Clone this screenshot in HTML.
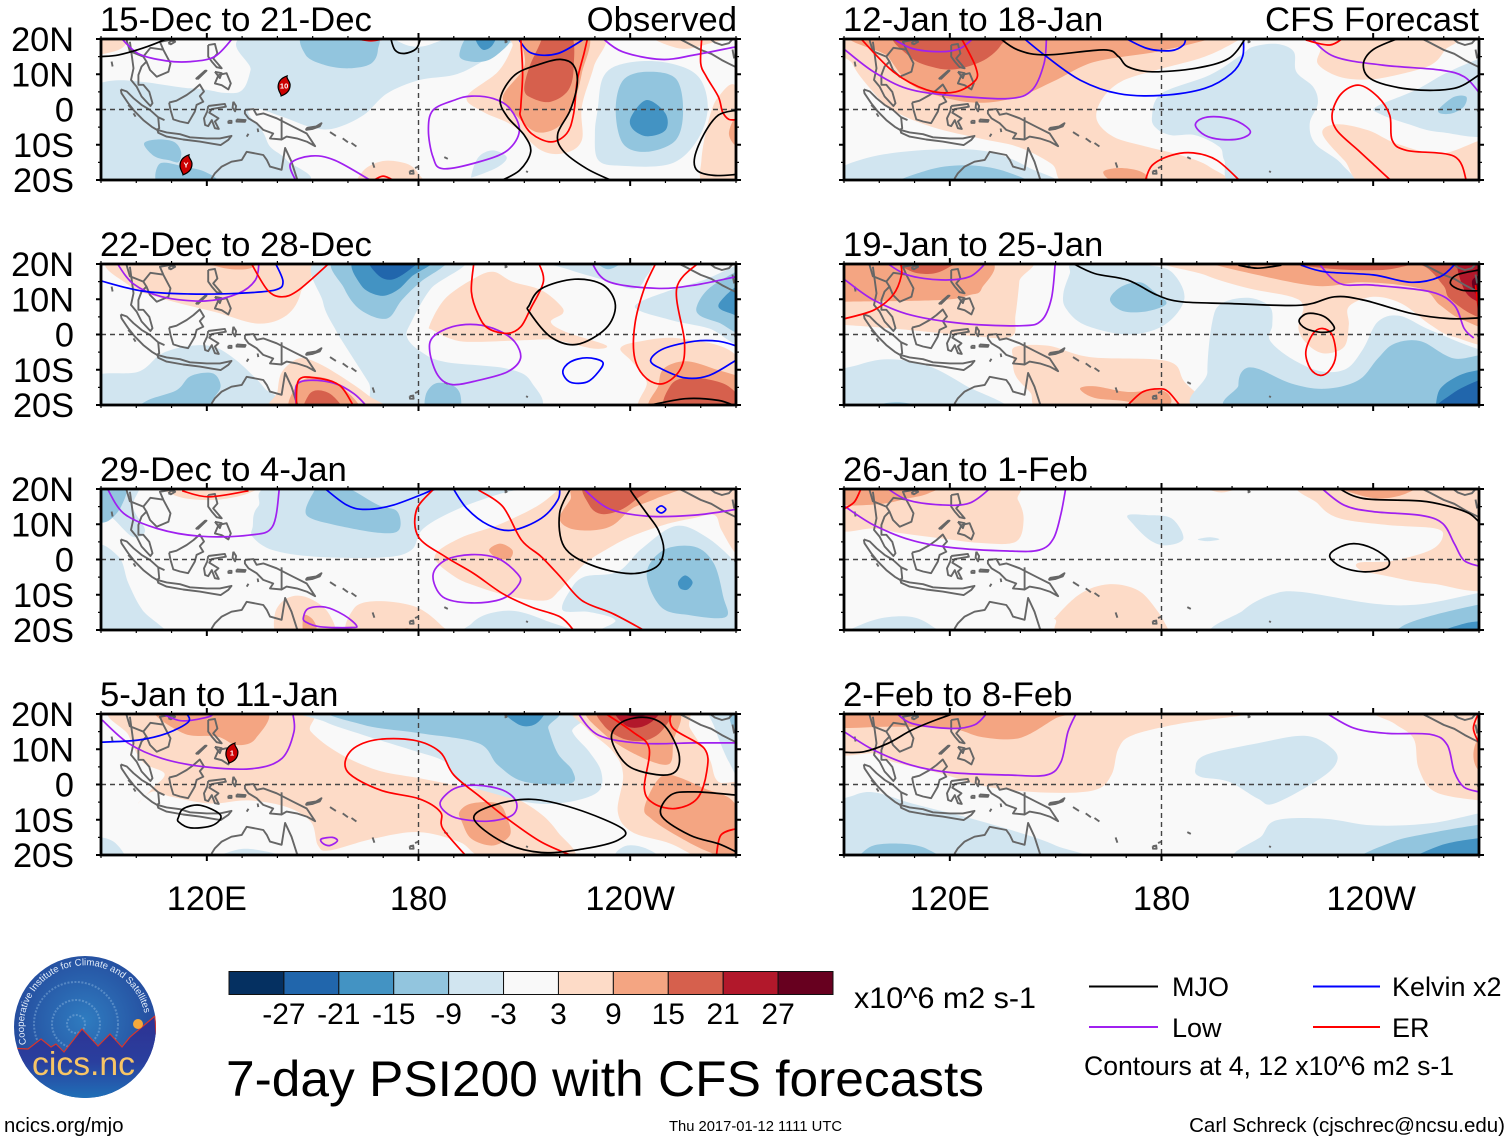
<!DOCTYPE html>
<html lang="en">
<head>
<meta charset="utf-8">
<title>7-day PSI200 with CFS forecasts</title>
<style>
html,body{margin:0;padding:0;background:#fff;width:1510px;height:1142px;overflow:hidden}
svg{display:block}
text{font-family:"Liberation Sans",sans-serif;fill:#000}
</style>
</head>
<body>
<svg id="chart" xmlns="http://www.w3.org/2000/svg" width="1510" height="1142" viewBox="0 0 1510 1142">
<defs>
<radialGradient id="logoSky" cx="50%" cy="45%" r="55%"><stop offset="0" stop-color="#2f7cc0"/><stop offset="1" stop-color="#24489b"/></radialGradient>
<linearGradient id="logoLand" x1="0" y1="0" x2="0" y2="1"><stop offset="0" stop-color="#2e3192"/><stop offset=".55" stop-color="#2a3f9e"/><stop offset="1" stop-color="#1f72b8"/></linearGradient>
<clipPath id="logoClip"><circle cx="85" cy="1027" r="71"/></clipPath>
<path id="logoArc" d="M26.5 1044A61 61 0 1 1 145 1016"/>
</defs>
<g id="panels"></g>

<g font-size="34.7">
<text x="100" y="31">15-Dec to 21-Dec</text>
<text x="737" y="31" text-anchor="end">Observed</text>
<text x="100" y="256">22-Dec to 28-Dec</text>
<text x="100" y="481">29-Dec to 4-Jan</text>
<text x="100" y="706">5-Jan to 11-Jan</text>
<text x="843" y="31">12-Jan to 18-Jan</text>
<text x="1479" y="31" text-anchor="end">CFS Forecast</text>
<text x="843" y="256">19-Jan to 25-Jan</text>
<text x="843" y="481">26-Jan to 1-Feb</text>
<text x="843" y="706">2-Feb to 8-Feb</text>
</g>

<g id="colorbar"></g>
<text x="854" y="1008" font-size="29.9" textLength="182" lengthAdjust="spacingAndGlyphs">x10^6 m2 s-1</text>
<text x="226" y="1096" font-size="50" textLength="758" lengthAdjust="spacingAndGlyphs">7-day PSI200 with CFS forecasts</text>

<g font-size="27">
<line x1="1089" x2="1158" y1="986.5" y2="986.5" stroke="#000" stroke-width="2"/>
<text x="1172" y="996">MJO</text>
<line x1="1313" x2="1380" y1="986.5" y2="986.5" stroke="#0000ff" stroke-width="2"/>
<text x="1392" y="996">Kelvin x2</text>
<line x1="1089" x2="1158" y1="1027" y2="1027" stroke="#a020f0" stroke-width="2"/>
<text x="1172" y="1037">Low</text>
<line x1="1313" x2="1380" y1="1027" y2="1027" stroke="#ff0000" stroke-width="2"/>
<text x="1392" y="1037">ER</text>
<text x="1084" y="1075" textLength="370" lengthAdjust="spacingAndGlyphs">Contours at 4, 12 x10^6 m2 s-1</text>
</g>

<g>
<circle cx="85" cy="1027" r="71" fill="url(#logoSky)"/>
<g clip-path="url(#logoClip)" fill="none" stroke="#8fb8e0" stroke-opacity=".45" stroke-dasharray="2 1.5">
<circle cx="76" cy="1024" r="9" stroke-width="2"/>
<circle cx="76" cy="1024" r="24" stroke-width="2"/>
<circle cx="76" cy="1024" r="42" stroke-width="2"/>
</g>
<g clip-path="url(#logoClip)">
<path d="M10 1048L28 1049L41 1039L51 1047L56 1044L64 1052L82 1029L98 1046L110 1034L122 1047L130 1037L155 1016L160 1100L10 1100Z" fill="url(#logoLand)" stroke="#d8352c" stroke-width="1.2"/>
</g>
<circle cx="138" cy="1024" r="5" fill="#f6a93b"/>
<text font-size="9.6" style="fill:#e4eefa"><textPath href="#logoArc" textLength="196" lengthAdjust="spacingAndGlyphs">Cooperative Institute for Climate and Satellites</textPath></text>
<text x="32" y="1075" font-size="33" textLength="103" lengthAdjust="spacingAndGlyphs" style="fill:#f7c565">cics.nc</text>
</g>

<text x="4" y="1132" font-size="20.3">ncics.org/mjo</text>
<text x="755.5" y="1131" font-size="14.6" text-anchor="middle" textLength="173" lengthAdjust="spacingAndGlyphs">Thu 2017-01-12 1111 UTC</text>
<text x="1505" y="1132" font-size="20.5" text-anchor="end">Carl Schreck (cjschrec@ncsu.edu)</text>
</svg>

<script>
/* Axis ticks and labels */
const xTickMajor = [120, 180, 240];
const xTickLabels = ['120E', '180', '120W'];
const yTickValues = [20, 10, 0, -10, -20];
const yTickLabels = ['20N', '10N', '0', '10S', '20S'];
/* Colour scale */
const bandLimits = [-27, -21, -15, -9, -3, 3, 9, 15, 21, 27];
const bandColors = ['#053061','#2166ac','#4393c3','#92c5de','#d1e5f0','#f9f9f9','#fddbc7','#f4a582','#d6604d','#b2182b','#67001f'];

/* Each fill: [band value, [lon,lat,...]]; contours are [lon,lat,...] (closed when first = last) */
const p1Fills = [
[-6,[88,6.3,115.4,6,125,4.7,130,5.5,132.4,11.2,134,21.6,206,21.6,205,18.3,197,13,190,9.8,180,8.3,171,4.5,164.4,-1.6,156,-5.4,149.5,-5,141.3,-2,133.7,.4,131.8,-1.1,135.9,-6.4,138,-10.6,142.7,-14.4,146,-21,88,-21]],
[0,[173,21,176,18.5,180,17.8,184,18.7,188,21]],
[-12,[148,21.6,148,15.5,153.5,12.6,160.3,11.7,166.5,13,168.5,16.9,167,21.6]],
[-12,[102.2,-9.7,105.9,-8.5,110.7,-9.2,112.7,-12,112,-14.9,109.3,-14.4,105.2,-13.3]],
[-12,[106.6,-15.4,114,-16.3,119.5,-17.7,122.2,-20.5,107,-22]],
[-6,[195,-18.6,197,-13.5,201,-11.6,205,-13.5,202.5,-16.3,196,-19]],
[-12,[191.6,15.4,195,13.6,199.8,14,203.9,16.9,206,19.5,205,21.6,195,21.6]],
[-18,[196.4,19.2,198.4,16.9,201,18.3,201.8,21.6,196.4,21.6]],
[-6,[230.8,0,232.4,9.3,238,13,249,13.5,258.9,9.8,262,.8,259,-8.7,251.5,-15.4,238,-16,231,-14.4,230,-6.8]],
[-12,[235.9,-.2,238,8.3,244.7,10.7,252.9,8.8,255,-.2,252.9,-8.7,244.7,-12,238,-9.7]],
[-18,[240.3,-2,244.7,2.7,250,-1.1,250,-5.9,244.7,-7.6,240.6,-5.4]],
[6,[193.7,3.6,202.5,10.7,206.6,17.8,207.3,21.6,232,21.6,229.7,12.1,226.3,.8,226.3,-8.7,221.6,-12.3,214.8,-11.6,206.6,-4.5,198.4,-.7]],
[12,[203.9,3.6,210,12.1,210.6,21.6,227.7,21.6,226.3,10.2,223.6,.8,219.5,-5,213.4,-6.4,208,-2]],
[18,[210,5.5,211.4,12,214.8,19.7,214,21.6,223,21.6,224,12.1,222.5,5.5,217.5,2.2,212.5,3.1]],
[6,[261,-21,260.2,-14.4,262,-4,265,3.6,270.5,5.5,273,-21]],
[12,[268,-6.8,269.3,-3,271,-3,271,-9.7,269.3,-9.7]],
[6,[246,21.6,254,17.3,262.7,18.8,270.5,21.6]],
[6,[163.7,-22,164.4,-17.3,170,-14.6,176.7,-15.4,180,-18.2,180.7,-22]],
[6,[88,21.6,97.8,21.6,96.4,17.8,92.3,16.1,88,16.1]]
];
const p1Mjo = [
[90,15,95,15.5,101.8,17.4,108,19.8,109,20.6],
[172,20.7,173.3,16.9,176,15.9,179.4,17.3,180.7,20.7],
[202.5,-20.6,208.6,-17.3,211.8,-12,210,-7.3,205.2,-2.1,203.2,3.1,207.3,9.8,214.8,13,220.2,14.2,223.9,12.6,225,7.4,223,-.2,219.5,-6.8,220.9,-11.6,227.7,-16.8,235.8,-20.6],
[270,-.2,265,-1.6,261,-6.8,258.3,-13.5,259,-17.3,263.7,-18.7,270.5,-18.4]
];
const p1Low = [
[95,21.1,100.5,15.9,108.6,13.8,115.4,13.6,122.2,15,127.3,20.2],
[184.1,-.2,190.3,2.7,195,3.8,201.2,3.1,205.9,.3,208.6,-5.9,205.2,-11.6,197,-14.9,186.9,-16.8,184.1,-13.5,182.8,-5.9,184.1,-.2],
[145.4,-20.5,143.7,-15.4,149.5,-13.2,156.3,-14.4,167.1,-20.5],
[231.8,20.5,237.8,16.4,248.8,14.2,258.3,15.5,270,17.8]
];
const p1Kelvin = [[208,20.5,212,16,219.5,15.9,227.7,20.5]];
const p1Er = [
[209,20.2,209.5,10.2,209,.8,209,-2.1,212,-6.8,217.5,-9.2,222,-6.8,224,-1.1,225,8.3,226.9,15.9,228,20.5],
[260.3,20.5,260,13.1,261.6,9.3,265,3.6,266.2,-.7,268,-2.8,270.5,-2.8],
[167,-20.3,170,-18.9,173.3,-20.3],
[162,20.2,166.5,19.5,171,20.2]
];
const p1Storms = [[141.9,6.7,'10'],[114.1,-15.7,'Y']];

const p2Fills = [
[6,[94.4,21.6,97.8,14,107.3,10.2,122.2,6.4,134.5,3.1,142.7,5.5,146.7,12.1,146.7,21.6]],
[12,[117.5,21.6,125,18.8,132.4,18.8,133,21.6]],
[-6,[152.4,21.6,152.9,9.3,156.3,1.7,160.3,-4.9,165.8,-13.5,171,-22,212,-22,212,-13.5,205.2,-9.7,187.6,-7.8,180.7,-4.9,176.7,-.7,178,3.6,183.5,13,192.3,21.6]],
[-12,[157,21.6,159,13,163.7,6.9,171,4.5,175.3,9.8,180.7,15,186.9,19.2,187.6,21.6]],
[-18,[162.4,21.6,163.7,14,169.2,11,174,12.6,178,16.4,184.1,21.6]],
[-24,[166.5,21.6,168.5,16.9,172.6,15.6,178,18.8,180,21.6]],
[-6,[88,-12,100.5,-10.6,107.3,-5.4,115.4,-3.2,122,-3.5,127.7,-6.8,133,-11.6,136.5,-15.4,141.3,-22,88,-22]],
[-12,[100.5,-22,103.2,-18.7,111.4,-15.8,115.4,-11.8,121.6,-11,123.9,-14.4,122.2,-17.7,118,-22]],
[-12,[182,-17.3,184.8,-13.9,189.6,-14.4,191.9,-17.3,191,-22,182.8,-22]],
[6,[183.2,2.7,187.6,10.2,195.7,15.9,201.2,17.8,206.6,15,214.8,12.6,220.2,8.3,220.9,6,217.5,3.6,221.6,.8,233.1,-3,229.7,-4,218.8,-1.6,210.7,-1.6,197,-2.1,190.3,-1.6,184.1,1.2]],
[-6,[214.8,21.6,223,18.3,232.4,15.5,240.6,13,244,15.5,244,21.6]],
[-6,[241.3,7.9,251.5,12.6,261,15.5,270.5,19.7,273,19.7,273,-2.6,262.4,1.7,251.5,4.1]],
[-12,[259,8.3,262.4,13.1,270,17.8,273,18.8,273,.8,265,3.4,259.6,5.5]],
[-18,[265,8.3,270,13.6,272.6,13.6,272.6,5.5,268.5,6]],
[-12,[230.4,21,233.8,18.5,238,21]],
[6,[237.2,-4,242,-2.1,254,-1.1,270,-5.9,273,-22,244,-22,244.7,-13.5,240.6,-7.8]],
[12,[246.7,-22,248,-14.4,249.5,-9.7,255.6,-7.6,263.7,-9.7,273,-13.5,273,-22]],
[18,[250.8,-22,251.5,-14.4,257,-12.2,266.4,-13.9,271.2,-18.2,271.2,-22]],
[6,[139.3,-22,140,-16.3,141.3,-10.6,146,-6.8,150.8,-7.8,157.6,-11.6,165.8,-17.3,170.5,-22]],
[12,[144.3,-22,145.6,-14.4,150.8,-12,157.6,-14.4,163,-22]],
[18,[148,-22,148.8,-17.3,151.5,-15.8,155.6,-17.3,158.3,-22]]
];
const p2Mjo = [
[211.4,8.3,214.8,13,224.3,15.7,232.4,14,235.8,8.3,233.1,1.7,224.9,-2.8,217.5,-.7,211.4,6.4,211.4,8.3],
[244,-20.4,255.6,-18.2,265,-18.7,270,-20.4]
];
const p2Low = [
[94.4,20.5,99,14.5,107.3,10.7,119.5,9.5,129,11.7,133.8,15.5,134.8,20.5],
[184.1,-.7,189.6,2.2,196.4,2.8,202.5,1.2,207.3,-2.1,208.9,-6.8,205.2,-10.6,197,-13,189.6,-14.2,185.5,-11.6,183.2,-4.9,184.1,-.7],
[145.4,-20.6,145.4,-14.4,149.5,-13,156.3,-13.9,161.7,-16.8,165.5,-20.5],
[229,20.5,233.8,15,247.4,13.1,258.3,14,270,16.4]
];
const p2Kelvin = [
[90,15.2,101.8,12.3,115.4,11.5,129,11.7,139.3,12.6,141.6,15,139.3,20.5],
[220.9,-10.6,223,-7.8,227.7,-6.6,232.2,-7.8,231,-10.6,227.7,-13.5,223,-13.5,220.9,-10.6],
[270,-7.3,262.4,-11.6,255.6,-12.3,248.8,-9.7,245.8,-7.3,249.5,-4,258.3,-1.9,265,-1.9,270,-3.2]
];
const p2Er = [
[132.4,20.5,137.2,12.6,141.3,10.7,146,12.6,155,20.5],
[195.7,20.5,195,12.1,197,5.5,199.8,1.7,205.2,.3,209,2.2,211.8,7.4,215.4,15,214,20.5],
[247.4,20.5,244,13.1,241.3,2.7,241.3,-6.8,244.7,-12.5,249.5,-13.9,254.3,-9.7,255.4,-2.1,253.2,13.1,259.6,20.5],
[145.4,-20.5,146,-13,150.8,-12.3,157.6,-14.4,161.7,-20.5]
];
const p2Storms = [];

const p3Fills = [
[-6,[133,9.3,134.5,15,144,21.6,217.5,21.6,205.2,19.2,191.6,14.5,181.4,8.8,178,2.7,170,.6,150.8,.8,138.6,2.7,133,6.4]],
[-12,[148,14,150.1,18.8,152.2,21,159,20.7,168.5,15.5,174,13.6,174.4,8.3,168.5,7.6,156.3,9.8,149.5,11.7]],
[-6,[88,21.6,100.5,21.6,99,15,102.5,8.3,99,6.4,93,12,88,15]],
[-6,[88,2.7,95,.8,97.8,-6.8,101.8,-14.4,108.6,-22,88,-22]],
[-12,[88,21.6,97,21.6,95.7,15,91.6,10.7,88,12]],
[-12,[87,-19,94,-21,94,-23,87,-23]],
[6,[107.9,21.6,112,17.8,122.2,16.9,131.8,18.8,133.8,21.6]],
[6,[184.6,.8,191.6,6,202.5,9.8,213.4,15,219.5,19.7,221.6,21.6,273,21.6,273,1.7,270,1.7,265.9,8.3,263.9,12.6,257.8,11.7,249.5,9.8,240,6.4,233,2.7,227.7,-.7,223,-5.4,220,-8.7,216,-11.6,206.6,-10.6,197,-7.8,190.3,-4.9]],
[12,[220,11.7,223,16.9,226.3,21.6,255.6,21.6,247.4,17.3,240.6,14.5,235.2,9.8,229.7,8.3,223,8.8]],
[18,[227.7,21.6,228.4,15.5,231.8,12.9,237.2,14,242,17.3,246.7,21.6]],
[12,[200,2.7,203.2,4.5,206.6,2.7,205.9,.3,202.5,.3]],
[-6,[220.9,-14.4,223,-8.7,227,-4.9,236.5,-3.5,243.3,3.1,252.9,9.5,261.7,6.3,270,-1.1,273,-6.8,273,-22,231.8,-22,235.8,-17.3,228.4,-14.9]],
[-6,[193.7,-22,195,-18.2,199.8,-15.4,207.3,-14.6,216,-17.3,225.7,-22]],
[-12,[244.7,-4,249.5,2.7,258.3,3.6,263.7,-1.1,266.4,-10.6,267.1,-16.3,257,-15.8,248.8,-13.5]],
[-18,[253.6,-6.4,255.6,-4.5,257.7,-6.4,256.3,-8.5,254.3,-8.3]],
[6,[141,-22,139.3,-15.4,142.7,-11,148,-10.6,154.3,-14.9,155.6,-22]],
[12,[147.5,-15.9,150,-17,151,-20,147.5,-21]],
[6,[161.4,-22,161.7,-13.9,168.5,-11.8,179.4,-13.5,186.9,-19.1,188.2,-22]],
[12,[174,-21,176.7,-19.5,180,-21,180,-23,174,-23]]
];
const p3Mjo = [[223.3,20.5,220,13.1,221.3,3.6,229,-1.6,240,-4,247.4,-2.1,249.5,2.7,248,8.3,244.7,13.1,240.6,18.8,239.7,20.5]];
const p3Low = [
[91.6,20.5,96.4,13.1,105.9,8.8,118,6.6,131.8,6.9,138.6,9.3,140.6,20.5],
[184.1,-4.5,187.6,-.2,195,1.4,202.5,.3,208,-4,208.6,-6.8,203.9,-11.1,195,-12.3,186.9,-10.6,184.1,-4.5],
[147.4,-16.3,148.8,-13.9,153.5,-13.5,158.9,-15.8,162.4,-18.7,161,-19.3,152.2,-19.1,148,-17.7,147.4,-16.3],
[226.3,20.5,233.8,14.5,244.7,12.3,258.3,12.6,270,14.2]
];
const p3Kelvin = [
[153,20.5,159.6,15.5,165,14.2,173,15.5,184,19.7,186,20.5],
[189.6,20.5,193.7,14.5,199.8,9.8,206.6,8.3,214.8,11.7,219.5,16.9,220,20.5],
[247.5,14.2,248.8,15.2,250.1,14.2,248.8,13.2,247.5,14.2]
];
const p3Er = [
[113,19.5,120.5,17.8,131.8,19.5],
[184,19.7,179.4,14,180,6.4,187.6,.8,195.7,-4,203.9,-9.7,212,-13.5,220.2,-16.3,224.3,-20.5],
[197,19.7,203.9,15,209.2,5.5,214.8,.8,220.2,-4.9,226.3,-11.6,235.2,-15.4,244.7,-20.5]
];
const p3Storms = [];

const p4Fills = [
[6,[95,21.6,146,21.6,149.5,15,157.6,8.8,168.5,4,180.7,1.7,193,-.7,205.2,-3,214,-7.8,219.5,-13.5,223.6,-21,199.8,-21,191.6,-16.3,180,-13.5,167.1,-15.4,154.9,-18.7,151.5,-17.3,149.5,-10.6,142.7,-6.4,131.8,-4.5,120.9,-5.4,110,-3.5,104.6,-2,100.5,-5.4,104.6,-1.1,108,3.1,101.8,6.4,97.8,14]],
[12,[106,21.6,113.4,14.5,123,13.6,128.4,11.2,133.8,13,135.9,21.6]],
[-6,[149.5,21.6,153.5,17.8,164.4,14,178,9.8,187.6,6.4,191.6,.8,203,-3,213.4,-5.4,223,-4.9,231,-2,231.8,3.6,228.4,9.3,223.6,15,223,21.6]],
[-12,[156.3,21.6,164.4,16.9,180.7,14.5,197,11.7,202.5,5.5,210,.8,223,.3,223.6,4,219.5,8.8,216.8,15.9,215.4,21.6]],
[-18,[203.9,21.6,208.6,16.9,213.4,17.3,215.4,21.6]],
[-6,[88,-15.4,93.7,-16.3,97,-22,88,-22]],
[-6,[122.2,-22,129,-18.4,137.2,-19.1,145.4,-22]],
[-6,[235.8,-20,239.2,-17.3,244.7,-18.2,248,-21,240,-23]],
[-6,[262.6,21.6,264,16,268,6.4,273,-.2,273,21.6]],
[-12,[268,21,270,14,273,14,273,21]],
[6,[225,21.6,227.7,15.9,235.2,9.3,238,2.7,236.5,-7.8,240.6,-13.5,251.5,-16.8,262.4,-22,273,-22,273,-1.1,265,.8,262.4,7.4,257,15.9,254.2,21.6]],
[12,[228.4,21.6,232.4,14.5,242,8.3,250.8,5.7,252.2,12.1,252.8,21.6]],
[12,[244,-6.8,247.4,.8,251.5,2.7,261,-1.1,270,-5.9,273,-22,262,-19,251.5,-13.5,246,-9.7]],
[18,[231.8,21.6,232.4,16.9,238,13,244.7,12.6,249.5,15.9,250.8,21.6]],
[24,[235.8,21.6,238.5,16.9,242.6,16.2,246.7,18.3,248,21.6]],
[30,[236.5,21,239.5,19.5,244,19.5,245,21]],
[12,[191.6,-7.8,195,-5.4,202.5,-5.4,205.2,-9.7,205.9,-14.4,201.2,-17.3,195,-15.4,192.3,-10.6]]
];
const p4Mjo = [
[112,-9.2,113.4,-6.8,118.2,-5.9,123.9,-8.7,121.6,-11.6,115.4,-12.3,112,-10.6,112,-9.2],
[195.7,-9.7,201.2,-5.9,212,-4.2,224.3,-6.8,237.8,-12.5,236.5,-15.8,227,-18.2,214.8,-19.3,203.9,-16.3,195.7,-9.7],
[234.7,13.1,237.8,17.8,244.7,19,250,16.4,253.8,8.8,252.8,3.6,247.4,2.8,239.2,5.5,234.7,13.1],
[270,-3,258.3,-2.1,251.5,-3,248.8,-8.7,257,-14.4,265,-16.8,270,-19.1]
];
const p4Low = [
[90.3,18.3,97.8,11.7,107.3,7.4,119.5,5,133,4.5,141.3,7.4,144.7,15,144.3,20.5],
[106.6,20.5,112.6,18.1,120.5,19.2,122,20.5],
[152.4,-15.5,155.6,-15,157,-16,154.9,-17.3,153,-16.8,152.4,-15.5],
[186.2,-4.9,190.3,-1.1,196.4,-.2,203.9,-1.6,207.7,-4.9,206.6,-8.7,199.8,-10.4,191.6,-9.7,187.6,-7.8,186.2,-4.9],
[225,20.5,231,14,243.3,11.7,258.3,11.8,270,11.8]
];
const p4Kelvin = [[90,12,100.5,12.6,108.6,14.5,114.8,17.8,114,20.5]];
const p4Er = [
[193.7,-20.5,186.9,-12.5,186.2,-7.8,180,-4,169.2,-1.6,159.9,3.6,160.6,9.3,167.5,12.6,178.4,12.6,186,9.3,190,2.7,197.5,-3.5,205.2,-9.7,214.8,-16.3,224.3,-20.5],
[232.4,20.5,240.6,15,245.4,10.2,244,-1.1,246.7,-5.4,252.9,-6.8,259,-4,261.7,3.6,261,10.2,252.2,15.9,251.5,20.5],
[264.4,-20.5,265.7,-14.4,270,-12.5]
];
const p4Storms = [[127.1,8.9,'1']];

const p5Fills = [
[6,[90.3,21.6,92.3,13.1,97.8,5.5,103.9,-.2,114.8,-4.9,128.4,-8.2,139.3,-10.6,148.8,-15.4,156.3,-22,197.8,-22,193.7,-16.3,185.5,-13,176,-10.6,166.5,-7.8,161.7,-3,163,2.7,168.5,7.9,178.6,11.2,192.3,15,201.8,19.7,203.2,21.6]],
[12,[97.8,21.6,102.5,15,108.6,7.4,117.5,3.6,128.4,1.9,139.3,3.6,150,8.3,161,13.5,178.6,16.4,193.7,20,196.4,21.6]],
[18,[105.2,21.6,108.6,15,114.8,12.1,121.6,11.4,129.7,14,134.5,18.3,134.5,21.6]],
[-6,[180,4.5,193.7,9.8,202.5,15.4,206,17.8,212.7,18.6,217.5,16.4,218.2,10.7,223,6.4,224.3,1.7,222,-4,223.6,-9.7,231,-15.4,233,-22,201.8,-22,197.8,-14.4,196.4,-10.6,189.6,-7.3,182.8,-7.3,178.6,-5.4,177.3,-2.1]],
[6,[220.8,21.6,225,17.8,224.3,13,230.4,9.3,238.6,8.5,246.7,9.8,256.3,12.6,260.4,16.9,263,21.6]],
[-6,[240.9,.8,252,5.5,260.4,10.2,269,14,275,16,275,-5.9,259,-6.4,249.5,-4,241.6,-1.1]],
[-12,[258.8,.3,263,3.6,266.4,3.6,265.7,.8,262.3,-1.1,259,-1.1]],
[6,[225.6,-6.8,229.7,-4.2,238.6,-5.9,246.7,-9.7,259,-12.5,270.5,-8.7,275,-8.7,275,-22,240,-22,231.8,-14.4]],
[-6,[87.6,-17.3,99.8,-13,117.5,-11.3,131,-12,142,-16.3,148,-22,87.6,-22]],
[-12,[105.2,-22,113.4,-17.3,124.3,-15.8,135.2,-17.4,142,-22]],
[12,[163.5,-17.7,167.8,-16.6,173.3,-17.3,176,-19.1,175.3,-22,166.5,-20.5]]
];
const p5Mjo = [
[133.8,20.5,139.3,16.9,147.4,15.5,163.7,16.9,167.8,15,170.5,12.1,177.3,10.7,189.6,11.7,199.1,14.5,204,20.5],
[248,20.5,240,17,237.2,12.6,240,8.3,250.8,5.7,263,6,270,9.8]
];
const p5Low = [
[90.3,16.9,98.4,10.7,108,5.9,120.2,4,136.5,3.1,143.3,5.5,146.7,13,147.4,20.5],
[103.2,20.5,109.3,17.3,117.5,16.4,122.9,17.3,127,20.5],
[189.6,-4.5,191.6,-2.5,196.4,-2.1,201.8,-3.5,205.2,-6.3,202.5,-8.2,197,-8.5,192.3,-7.3,189.6,-4.5],
[222.2,20.5,229,15,242.7,12.6,259,11.2,265.8,9.3,269.9,5]
];
const p5Kelvin = [
[140.6,20.5,147.4,15,157,8.3,167.8,4.5,180,4,192.3,6,199.8,10.2,203,15,203.2,20.5],
[169.2,20.5,176,17.3,182.8,16.7,186.2,18.3,186.9,20.5]
];
const p5Er = [
[94.4,20.5,104,10.7,113.4,5.6,121.6,5,127.3,8.3,127.3,12.1,124.3,18.3,123,20.5],
[175.3,-20.5,177.3,-15.9,182.8,-13,189,-12.3,195.7,-14.4,202.5,-20.5],
[245.4,-20.5,240,-15.5,235.8,-11.6,229.7,-5.9,228.4,-1.1,231,4.5,236,6.9,241.3,3.6,244.7,-1.6,245.4,-8.7,249.5,-11.6,263,-13.3,266.5,-20.5],
[220.9,19.7,227.7,18.3,231.8,20.5]
];
const p5Storms = [];

const p6Fills = [
[6,[87.6,21.6,140,21.6,139.7,15,138.6,5.5,137.2,-.7,124.3,-.2,103.9,1.7,90.3,2.7,87.6,2.7]],
[12,[87.6,21.6,129.7,21.6,129,13,125.6,11.2,117.5,9.8,90.3,9.3,87.6,9.3]],
[18,[105,21.6,109.3,17.8,115.4,17.3,120,19.2,122.9,21.6]],
[-6,[152.2,11.7,154,17.3,155,20,168,20.5,176,19.7,182.8,17.8,186.5,10.2,180.8,2.7,170.5,0,158.3,2.7,152.9,7.4]],
[-12,[165.4,9.8,168.5,13.5,174,14.8,178,12.1,181.4,8.8,176,6.6,169.2,6.6]],
[-6,[87.6,-11.6,93.7,-8.7,102.5,-7,113.4,-8.7,124.3,-14.4,135.2,-22,87.6,-22]],
[-12,[98,-20.5,105,-19.2,112,-20.5,112,-23,98,-23]],
[6,[137.9,-6.8,138.6,-3.5,148,-3.2,159.7,-6.4,181.4,-7.5,186.2,-13,190.3,-22,148.8,-22,142.7,-16.3,138.6,-11.6]],
[12,[156.9,-15.4,161,-14.7,170.5,-16.3,180,-15.8,182.8,-19.1,178.7,-22,170.5,-19.1,161,-18]],
[-6,[194.4,-22,193,-10.6,194.4,3.6,197,8.8,204.6,10.4,210.7,7.9,211.4,2.7,210.7,-1.6,216.8,-6.8,225,-10.4,232.4,-9.7,237.2,-4,241.3,3.6,247.4,5.3,256.3,1.2,270,-4.2,275,-4,275,-22]],
[-12,[201.8,-14.4,203.2,-10.1,207.3,-9.7,216.8,-13.9,226.3,-15.4,235.8,-13,241.3,-6.8,246,-2.6,253.5,-1.9,263,-6.8,275,-6.4,275,-22,203.2,-22]],
[-18,[257.6,-21,259,-15.4,264.4,-11.6,270,-10.1,275,-9.7,275,-22,257,-22]],
[-24,[257.6,-22,262.4,-16.8,270,-13,275,-12.5,275,-22]],
[6,[184.1,21.6,192.3,16.9,204.6,13.1,216.8,10.7,220.2,7.9,218.8,1.7,221.6,-3,226.3,-5.4,231.8,-3.5,233.1,2.7,233.1,7.9,240,10.7,248,8.8,256.3,2.7,263,-.7,275,-1.6,275,21.6]],
[12,[192.3,20.7,203.2,17.8,223.6,13.8,237.2,14.8,253.5,13,259,8.3,265.7,4,275,2.7,275,21.6,194,21.6]],
[18,[212.7,21.6,226.3,18.8,242.7,18.3,253.5,19.7,259.8,14,261.7,10.2,268.5,5.5,275,4.5,275,21.6]],
[24,[264.4,21.6,265.7,13,269.8,9.3,275,9.3,275,21.6]],
[30,[268,15,270.5,16.9,275,16.9,275,11,269.7,11]]
];
const p6Mjo = [
[154.2,20.5,161,17.3,170.5,15.4,178.7,11.2,185.5,9.3,199.1,8.8,219.5,8.3,229,10.7,237.2,9.8,250.8,6,261.7,4.5,270,4.7],
[201.8,19.7,207.3,18.8,214,19.7],
[219,4,221.6,6,226.3,5,229,1.7,225.7,.6,220.9,1.7,219,4],
[270,18.3,263.7,16.9,261.9,14.5,265,12.6,270,12.4]
];
const p6Low = [
[90.3,15.5,98.4,9.8,109,5.5,124,3.1,140.6,2.5,146,4,148.8,10.2,149.9,20.5],
[101.8,20.5,108,16.9,117.5,15.5,125.6,16.4,130.4,20.5],
[224.3,20.5,230.4,14.5,240,14,256.3,12.1,263,8.3,265.8,1.7,268.5,-1]
];
const p6Kelvin = [[219.5,19.7,226.3,17.8,240,16.9,250.8,14.8,259,16.4,263.7,20.5]];
const p6Er = [
[90.3,4.5,98.4,6.9,103.9,11.2,106.3,16.9,106,20.5],
[220.9,-4.9,223,.3,225.7,1.7,228.4,-.2,229.4,-5.9,227.7,-10.1,225,-11.6,222.2,-9.7,220.9,-4.9],
[170,-20.5,174.6,-16.3,179.4,-15.4,182,-16.3,185.5,-20.5],
[269,14,270,6]
];
const p6Storms = [];

const p7Fills = [
[6,[135.2,21.6,139.3,16.9,140.9,11.2,138.6,5,128.4,4.7,117.5,6,106.6,7.4,98.4,8.8,87.6,8.8,87.6,21.6]],
[12,[87.6,21.6,116.8,21.6,114,18.8,108,17.3,99.8,15.7,87.6,15.9]],
[-6,[170.5,12.6,176,12.6,182.8,11.7,186.2,6,181.4,4,176.7,5.5,171.8,10.2]],
[-6,[190.3,5.7,193.7,6.3,196.4,5.7,193,5.2]],
[6,[150,-16.3,157,-9.7,165,-7,173.3,-8.7,178.7,-14.4,182,-20,182.8,-22,152.9,-22,150.1,-17.3]],
[6,[221.6,21.6,224.3,15.9,230.4,11.7,244,9.8,257.6,8.8,259.7,6.4,256.3,2.7,245.4,-.4,235.9,-.9,236.5,-3,244,-4.7,256.3,-6.8,275,-6.8,275,21.6]],
[12,[229,21.6,236,18.3,242.7,17.3,249.5,18.8,252,21.6]],
[6,[191.6,21,197,19,202.5,21,197,23]],
[-6,[203.2,-14.4,211.4,-9.9,219.5,-9.2,240,-12.5,253.5,-12.7,270,-9.5,275,-9.2,275,-22,198.4,-22]],
[-12,[248,-19.1,256.3,-16,270,-12.8,275,-12.5,275,-22,248,-22]],
[-18,[258.8,-20.5,265.7,-18.2,270,-17.5,275,-17.2,275,-22,257.6,-22]],
[-6,[90.3,-20.5,99.8,-16.8,109.3,-16.3,115.4,-19.2,117.5,-22,89,-22]]
];
const p7Mjo = [
[229.7,20.5,237.2,17.3,253.5,16.6,261.7,15,267.1,13.1,270,10.7],
[227.7,.8,229.7,3.1,234.5,4.5,240,3.1,244.4,-.2,243.3,-2.6,237.2,-3.5,231,-2.1,227.7,.8]
];
const p7Low = [
[90.3,15,98.4,9.8,109,5.5,120.2,3.4,136.5,2.4,145.4,2.7,149.4,6,151.5,13,152.9,20.5],
[101.8,20.5,108,16.9,117.5,15.5,125.6,16,131.8,20.5],
[225,20.5,231.8,15.4,240,13.6,253.5,12.5,259.7,10.2,263,4.5,265.7,-.2,270,-1.9]
];
const p7Kelvin = [];
const p7Er = [[95,20.5,93,16.4,90.3,14.5]];
const p7Storms = [];

const p8Fills = [
[6,[87.6,21.6,207.3,21.6,203.2,19.7,185.5,17.3,171.9,14,167.8,10.2,165.8,2.7,161,-1.6,147.4,-2.3,131,-.7,117.5,3.1,103.9,6.4,98.4,8.8,87.6,9.1]],
[12,[87.6,21.6,155.6,21.6,150,18.8,142,14,136.5,12.8,128.4,13.6,120.2,15.9,103.9,16.4,87.6,16.4]],
[6,[240,21.6,246,17.3,251.5,13,252.9,4.5,257.6,-2.1,270,-4.5,275,-4.5,275,21.6]],
[12,[268.4,8.3,270,13,275,13,275,3.6,270,4]],
[-6,[189.6,4.5,192.3,8.3,207.3,11.7,220.9,13.8,228.4,10.2,229.7,6.4,225,1.7,212,-5.4,207.3,-4,199.1,.8,191,2.2]],
[-6,[87.6,-6.8,93,-3,99.1,-2.3,109.3,-5.4,124.3,-9.2,139.3,-13.5,150,-17.3,157,-22,87.6,-22]],
[-12,[94,-20.5,98.4,-17.3,106.6,-16.8,113.4,-18.2,116.8,-22,93,-22]],
[-6,[204.6,-22,208.6,-14.4,212.7,-10.1,226.3,-9.7,240,-11.6,256.3,-11,270,-8.2,275,-7.8,275,-22]],
[-12,[237,-22,245.4,-16.3,257.6,-13.5,270,-11.4,275,-11,275,-22]],
[-18,[251.5,-22,259,-17.3,270,-15.2,275,-14.8,275,-22]]
];
const p8Mjo = [[90.3,9.1,95.7,9.3,102.5,11.7,109.3,15.5,116,18.3,122.2,20.5]];
const p8Low = [
[90.3,14.8,98.4,9.8,109,5.5,120.2,3.4,136.5,2.7,147.4,2.7,151.5,6.4,153.5,15,156,20.5],
[104.6,20.5,109.3,17.3,120.2,15.9,127,16.9,130.7,20.5],
[226.3,20.5,234.5,16,244,14.5,256.3,14.2,261,11.2,263,3.6,265.7,-.7,270,-2.1]
];
const p8Kelvin = [];
const p8Er = [[270,20.5,268.4,16,270,11.7]];
const p8Storms = [];

/* Basemap coastlines in lon/lat */
const coastLines = [
[95.6,5.7,97.3,5.1,99.2,3.2,101.5,1.3,103.9,-.1,106.2,-2.2,106.5,-5.3,105.9,-5.8,104.4,-4.9,102,-3,99.6,-.6,97.7,1.8,95.8,4.6,95.6,5.7],
[106,-5.8,108.6,-6.5,112.4,-7,115.2,-7.9,120,-8.2,123.7,-8.2,127,-7.5,126.1,-8.6,123.9,-10.1,120.9,-9.6,118,-9.1,113.3,-8.5,108.6,-7.7,106.2,-6.6,106,-5.8],
[109.3,1.95,111.4,2.5,114.3,4.1,116.2,5.5,118,7.1,119.2,5.1,118,3.8,119,2.2,117.1,1.3,116.6,-.6,114.7,-3.9,112.4,-3.4,110.5,-2.8,109.7,-.1,109.3,1.95],
[120.4,1,125.1,1.6,125.4,.8,121.4,.1,120.7,-.9,123.3,-2.5,122.3,-3.4,123.4,-5.5,122.3,-5.3,121.4,-3,120.4,-4.7,119.5,-4.4,119.2,-2.5,120.1,-.6,120.4,1],
[120.4,18.3,122.3,18.6,123,15.9,121.8,14.5,124.2,11.7,122.8,12,121.4,13.6,120.4,15,120.4,18.3],
[122.3,10.7,124.2,10.3,123.7,8.9,122.3,10.7],
[123.3,9.8,125.6,10.3,126.8,7.4,126.1,5.7,124.2,6.9,122.3,7.4,123.3,9.8],
[117.4,8.6,119.9,11,119.5,11,117,8.8,117.4,8.6],
[98.2,19.2,98.7,15.5,99.2,11.7,98.5,8.4,100.1,6.5,101.5,3.7,104,1,104.6,1.8,103.7,5,102,7,100.6,7,100.6,9.8,101.5,12.2,102.9,13.6,103.9,11.2,105.8,9.3,109.1,10.7,109.7,13.1,107.7,16.9,106.7,19.2,109.5,19.7,111,19.2],
[97,20.5,98.2,16.5,102,15,102.9,13.6],
[102,15,104,17.5,107.5,17],
[109.1,18.8,110.5,20,111,19.2,109.8,18.5,109.1,18.8],
[130.8,-.1,133.2,.1,134.1,-1.5,136,-1.1,139.8,-2.5,144.5,-4.9,148.3,-6.8,150.7,-10.4,148.3,-9.1,145.5,-8.2,142.6,-7.7,141.2,-8.5,137.9,-8.2,138.8,-6.8,136,-5.8,134.1,-3.9,131.8,-2.5,130.8,-1.1,130.8,-.1],
[141.2,-2.2,141.2,-8.5],
[148,-5.8,150,-5.5,152,-4.8,152.5,-3.9,151,-4.8,148.5,-5.2,148,-5.8],
[120.9,-21.9,121.4,-19.5,122.3,-18.1,124.2,-16.2,127,-14.8,129.9,-14.3,131.3,-12,136,-12.9,137,-14.3,137.9,-16.2,141.2,-17.1,142.2,-10.9,144,-14.8,145.5,-19.5,146.4,-21.4],
[127.5,2.2,128.3,1,128,-.5,127.3,.5,127.5,2.2],
[128.5,-2.8,131,-3,130.8,-3.5,128.4,-3.4,128.5,-2.8],
[126.1,-3.2,127,-3.2,127,-3.8,126.1,-3.8,126.1,-3.2],
[131.3,-7.7,131.8,-6.9],[134.4,-5.4,134.6,-6.4],[106.2,-2.2,108,-3],[97.7,1.3,98.7,.3],[99.2,-1.1,99.8,-2],[93,13.6,93.3,12.2],
[154.9,-6.4,156.6,-7.5],[158.5,-8.2,160,-9.3],[161,-9.5,162.4,-10.5],[167,-15,167.5,-16.5],
[177.5,-17.5,178.5,-17.3,178.6,-18.2,177.6,-18.2,177.5,-17.5],[179,-16.6,180,-16.2],
[187.3,-13.5,188.3,-14],[210.5,-17.5,211,-17.8],[204.5,19.8,205,19.2,204.4,19],[269.5,-.5,270,-.2],
[253,20.5,256,19,260,16.9,263,15.8,266,14,268,13,270,12],
[262,20.5,264,19,266,18.3,268,18.8,269.5,20.5],[269,17,269.5,14.5]
];

const panelSet = [
{col:0,row:0,fills:p1Fills,mjo:p1Mjo,low:p1Low,kelvin:p1Kelvin,er:p1Er,storms:p1Storms},
{col:0,row:1,fills:p2Fills,mjo:p2Mjo,low:p2Low,kelvin:p2Kelvin,er:p2Er,storms:p2Storms},
{col:0,row:2,fills:p3Fills,mjo:p3Mjo,low:p3Low,kelvin:p3Kelvin,er:p3Er,storms:p3Storms},
{col:0,row:3,fills:p4Fills,mjo:p4Mjo,low:p4Low,kelvin:p4Kelvin,er:p4Er,storms:p4Storms},
{col:1,row:0,fills:p5Fills,mjo:p5Mjo,low:p5Low,kelvin:p5Kelvin,er:p5Er,storms:p5Storms},
{col:1,row:1,fills:p6Fills,mjo:p6Mjo,low:p6Low,kelvin:p6Kelvin,er:p6Er,storms:p6Storms},
{col:1,row:2,fills:p7Fills,mjo:p7Mjo,low:p7Low,kelvin:p7Kelvin,er:p7Er,storms:p7Storms},
{col:1,row:3,fills:p8Fills,mjo:p8Mjo,low:p8Low,kelvin:p8Kelvin,er:p8Er,storms:p8Storms}
];

const SVGNS = 'http://www.w3.org/2000/svg';
const PW = 635, PH = 141;
function panelLeft(col){ return col === 0 ? 101 : 844; }
function panelTop(row){ return 39 + row * 225; }
function xScale(lon, x0){ return x0 + (lon - 90) / 180 * PW; }
function yScale(lat, y0){ return y0 + (20 - lat) / 40 * PH; }
function bandColor(v){
  let i = 0;
  while (i < bandLimits.length && v >= bandLimits[i]) i++;
  return bandColors[i];
}
function make(tag, parent){
  const el = document.createElementNS(SVGNS, tag);
  parent.appendChild(el);
  return el;
}
function project(arr, x0, y0){
  const pts = [];
  for (let i = 0; i < arr.length; i += 2) pts.push([xScale(arr[i], x0), yScale(arr[i + 1], y0)]);
  return pts;
}
function smoothPath(pts, closed){
  const n = pts.length;
  const at = i => closed ? pts[(i + n) % n] : pts[Math.max(0, Math.min(n - 1, i))];
  let d = 'M' + pts[0][0].toFixed(1) + ' ' + pts[0][1].toFixed(1);
  const segs = closed ? n : n - 1;
  for (let i = 0; i < segs; i++) {
    const p0 = at(i - 1), p1 = at(i), p2 = at(i + 1), p3 = at(i + 2);
    const c1x = p1[0] + (p2[0] - p0[0]) / 6, c1y = p1[1] + (p2[1] - p0[1]) / 6;
    const c2x = p2[0] - (p3[0] - p1[0]) / 6, c2y = p2[1] - (p3[1] - p1[1]) / 6;
    d += 'C' + c1x.toFixed(1) + ' ' + c1y.toFixed(1) + ' ' + c2x.toFixed(1) + ' ' + c2y.toFixed(1) + ' ' + p2[0].toFixed(1) + ' ' + p2[1].toFixed(1);
  }
  return closed ? d + 'Z' : d;
}
function linePath(pts){
  return 'M' + pts.map(p => p[0].toFixed(1) + ' ' + p[1].toFixed(1)).join('L');
}
function isClosed(arr){
  return arr.length > 4 && arr[0] === arr[arr.length - 2] && arr[1] === arr[arr.length - 1];
}
function drawContours(group, list, color, name, x0, y0){
  list.forEach(arr => {
    const closed = isClosed(arr);
    const pts = project(closed ? arr.slice(0, -2) : arr, x0, y0);
    const el = make('path', group);
    el.setAttribute('d', smoothPath(pts, closed));
    el.setAttribute('fill', 'none');
    el.setAttribute('stroke', color);
    el.setAttribute('stroke-width', '1.7');
    
    
  });
}
function drawTick(group, x1, y1, x2, y2, w){
  const t = make('line', group);
  t.setAttribute('x1', x1);
  t.setAttribute('y1', y1);
  t.setAttribute('x2', x2);
  t.setAttribute('y2', y2);
  t.setAttribute('stroke', '#000');
  t.setAttribute('stroke-width', w);
  
  
}

const root = document.getElementById('panels');
panelSet.forEach((panel, idx) => {
  const x0 = panelLeft(panel.col), y0 = panelTop(panel.row);
  const g = make('g', root);
  
  

  const clip = make('clipPath', g);
  clip.setAttribute('id', 'clip' + idx);
  const cr = make('rect', clip);
  cr.setAttribute('x', x0);
  cr.setAttribute('y', y0);
  cr.setAttribute('width', PW);
  cr.setAttribute('height', PH);

  const plot = make('g', g);
  plot.setAttribute('clip-path', 'url(#clip' + idx + ')');
  
  

  const bg = make('rect', plot);
  bg.setAttribute('x', x0);
  bg.setAttribute('y', y0);
  bg.setAttribute('width', PW);
  bg.setAttribute('height', PH);
  bg.setAttribute('fill', bandColor(0));
  
  

  panel.fills.forEach(f => {
    const el = make('path', plot);
    el.setAttribute('d', smoothPath(project(f[1], x0, y0), true));
    el.setAttribute('fill', bandColor(f[0]));
    
    
  });

  coastLines.forEach(c => {
    const el = make('path', plot);
    el.setAttribute('d', linePath(project(c, x0, y0)));
    el.setAttribute('fill', 'none');
    el.setAttribute('stroke', '#666');
    el.setAttribute('stroke-width', '1.9');
    el.setAttribute('stroke-linejoin', 'round');
    
    
  });

  const eq = make('line', plot);
  eq.setAttribute('x1', x0);
  eq.setAttribute('x2', x0 + PW);
  eq.setAttribute('y1', yScale(0, y0));
  eq.setAttribute('y2', yScale(0, y0));
  eq.setAttribute('stroke', '#444');
  eq.setAttribute('stroke-width', '1.4');
  eq.setAttribute('stroke-dasharray', '5 4');
  
  

  const dl = make('line', plot);
  dl.setAttribute('x1', xScale(180, x0));
  dl.setAttribute('x2', xScale(180, x0));
  dl.setAttribute('y1', y0);
  dl.setAttribute('y2', y0 + PH);
  dl.setAttribute('stroke', '#444');
  dl.setAttribute('stroke-width', '1.4');
  dl.setAttribute('stroke-dasharray', '5 4');
  
  

  drawContours(plot, panel.low, '#a020f0', 'low-contour', x0, y0);
  drawContours(plot, panel.kelvin, '#0000ff', 'kelvin-contour', x0, y0);
  drawContours(plot, panel.er, '#ff0000', 'er-contour', x0, y0);
  drawContours(plot, panel.mjo, '#000000', 'mjo-contour', x0, y0);

  panel.storms.forEach(s => {
    const cx = xScale(s[0], x0), cy = yScale(s[1], y0);
    const st = make('g', plot);
    st.setAttribute('transform', 'translate(' + cx.toFixed(1) + ' ' + cy.toFixed(1) + ')');
    
    
    const sp = make('path', st);
    sp.setAttribute('d', 'M3 -10C-3 -8 -6 -4 -6 1C-6 5 -3 8 -3 10C3 8 6 4 6 -1C6 -5 2 -7 3 -10Z');
    sp.setAttribute('fill', '#cc0000');
    sp.setAttribute('stroke', '#000');
    sp.setAttribute('stroke-width', '1.2');
    const stx = make('text', st);
    stx.setAttribute('y', '2.6');
    stx.setAttribute('text-anchor', 'middle');
    stx.setAttribute('font-size', '7.5');
    stx.setAttribute('font-weight', 'bold');
    stx.setAttribute('style', 'fill:#fff');
    stx.textContent = s[2];
  });

  const border = make('rect', g);
  border.setAttribute('x', x0);
  border.setAttribute('y', y0);
  border.setAttribute('width', PW);
  border.setAttribute('height', PH);
  border.setAttribute('fill', 'none');
  border.setAttribute('stroke', '#000');
  border.setAttribute('stroke-width', '2.8');
  
  

  for (let lon = 90; lon <= 270; lon += 10) {
    const major = xTickMajor.includes(lon);
    const px = xScale(lon, x0), len = major ? 6 : 3;
    drawTick(g, px, y0 - len, px, y0, major ? 2 : 1.2);
    drawTick(g, px, y0 + PH, px, y0 + PH + len, major ? 2 : 1.2);
  }
  for (let lat = -20; lat <= 20; lat += 5) {
    const major = lat % 10 === 0;
    const py = yScale(lat, y0), len = major ? 5 : 3;
    drawTick(g, x0 - len, py, x0, py, major ? 2 : 1.2);
    drawTick(g, x0 + PW, py, x0 + PW + len, py, major ? 2 : 1.2);
  }

  if (panel.col === 0) {
    yTickValues.forEach((v, i) => {
      const t = make('text', g);
      t.setAttribute('x', x0 - 27);
      t.setAttribute('y', yScale(v, y0) + 12);
      t.setAttribute('text-anchor', 'end');
      t.setAttribute('font-size', '34.3');
      
      
      t.textContent = yTickLabels[i];
    });
  }
  if (panel.row === 3) {
    xTickMajor.forEach((v, i) => {
      const t = make('text', g);
      t.setAttribute('x', xScale(v, x0) - (panel.col === 1 && v === 240 ? 2 : 0));
      t.setAttribute('y', 910);
      t.setAttribute('text-anchor', 'middle');
      t.setAttribute('font-size', '34.3');
      
      
      t.textContent = xTickLabels[i];
    });
  }
});

const cb = document.getElementById('colorbar');
const cbLeft = 229, cbCell = 604 / bandColors.length;
bandColors.forEach((c, i) => {
  const r = make('rect', cb);
  r.setAttribute('x', cbLeft + i * cbCell);
  r.setAttribute('y', 971.5);
  r.setAttribute('width', cbCell);
  r.setAttribute('height', 23);
  r.setAttribute('fill', c);
  r.setAttribute('stroke', '#111');
  r.setAttribute('stroke-width', '1');
  
  
});
bandLimits.forEach((v, i) => {
  const t = make('text', cb);
  t.setAttribute('x', cbLeft + (i + 1) * cbCell);
  t.setAttribute('y', 1024);
  t.setAttribute('text-anchor', 'middle');
  t.setAttribute('font-size', '30');
  
  
  t.textContent = String(v);
});
</script>
</body>
</html>
